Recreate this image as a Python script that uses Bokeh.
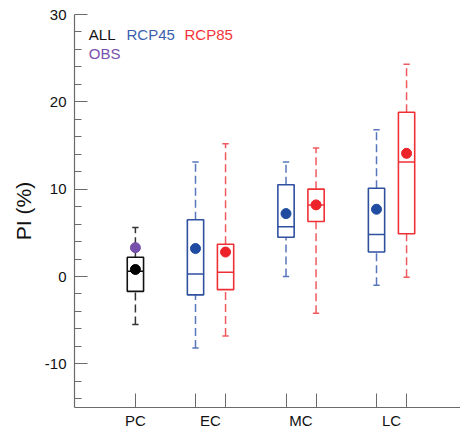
from bokeh.plotting import figure
from bokeh.models import Range1d, FixedTicker, Label, ColumnDataSource
from bokeh.embed import file_html
from bokeh.resources import INLINE

# ---- data ----
groups = ["PC", "EC", "MC", "LC"]
group_pos = [0.17, 1.0, 2.0, 3.0]
offset = 0.166

box_group = ["PC", "EC", "EC", "MC", "MC", "LC", "LC"]
box_series = ["ALL", "RCP45", "RCP85", "RCP45", "RCP85", "RCP45", "RCP85"]
box_side = [0, -1, 1, -1, 1, -1, 1]
whisker_low = [-5.5, -8.2, -6.8, 0.0, -4.2, -1.0, -0.1]
q1 = [-1.7, -2.1, -1.5, 4.5, 6.3, 2.8, 4.9]
median = [0.6, 0.3, 0.5, 5.7, 8.2, 4.8, 13.1]
q3 = [2.2, 6.5, 3.7, 10.5, 10.0, 10.1, 18.8]
whisker_high = [5.6, 13.1, 15.2, 13.1, 14.7, 16.8, 24.3]
mean = [0.8, 3.2, 2.8, 7.2, 8.2, 7.7, 14.1]
obs_group = ["PC"]
obs_value = [3.3]

y_ticks = [-10, 0, 10, 20, 30]
y_tick_labels = ["-10", "0", "10", "20", "30"]

colors = {"ALL": "#111111", "RCP45": "#2f4f9f", "RCP85": "#ee3035"}
whisker_colors = {"ALL": "#333333", "RCP45": "#5876bb", "RCP85": "#ef5a5e"}
dot_colors = {"ALL": "#000000", "RCP45": "#1f4ca0", "RCP85": "#ec2328"}
obs_color = "#7650ab"

gp = dict(zip(groups, group_pos))
xs = [gp[g] + s * offset for g, s in zip(box_group, box_side)]
col = [colors[s] for s in box_series]
wcol = [whisker_colors[s] for s in box_series]
dcol = [dot_colors[s] for s in box_series]

src = ColumnDataSource(dict(x=xs, lo=whisker_low, q1=q1, med=median, q3=q3,
                            hi=whisker_high, mean=mean, col=col, wcol=wcol, dcol=dcol))

p = figure(width=460, height=431, output_backend="svg", toolbar_location=None,
           x_range=Range1d(-0.503, 3.762), y_range=Range1d(-15, 30),
           min_border_left=74, min_border_top=14, min_border_right=0, min_border_bottom=24)
p.outline_line_color = None
p.grid.visible = False
p.background_fill_color = "white"

bw = 0.18
cw = 0.07
# whiskers
p.segment(x0="x", y0="q3", x1="x", y1="hi", source=src, line_color="wcol", line_width=1.5, line_dash="8 4")
p.segment(x0="x", y0="lo", x1="x", y1="q1", source=src, line_color="wcol", line_width=1.5, line_dash="8 4")
# caps
src2 = ColumnDataSource(dict(x0=[x - cw / 2 for x in xs], x1=[x + cw / 2 for x in xs],
                             lo=whisker_low, hi=whisker_high, wcol=wcol))
p.segment(x0="x0", y0="hi", x1="x1", y1="hi", source=src2, line_color="wcol", line_width=1.5)
p.segment(x0="x0", y0="lo", x1="x1", y1="lo", source=src2, line_color="wcol", line_width=1.5)
# boxes
p.vbar(x="x", width=bw, top="q3", bottom="q1", source=src, fill_color="white",
       line_color="col", line_width=1.6)
# medians
src3 = ColumnDataSource(dict(x0=[x - bw / 2 for x in xs], x1=[x + bw / 2 for x in xs],
                             med=median, col=col))
p.segment(x0="x0", y0="med", x1="x1", y1="med", source=src3, line_color="col", line_width=1.5)
# means
p.scatter(x="x", y="mean", source=src, size=10, fill_color="dcol", line_color="dcol")
# obs
p.scatter(x=[gp[g] for g in obs_group], y=obs_value, size=10, fill_color=obs_color, line_color=obs_color)

axis_col = "#6a6a6a"
# y axis
p.yaxis.ticker = FixedTicker(ticks=y_ticks, minor_ticks=list(range(-14, 30, 2)))
p.yaxis.major_label_overrides = dict(zip(y_ticks, y_tick_labels))
p.yaxis.major_tick_in = 13
p.yaxis.major_tick_out = 0
p.yaxis.minor_tick_in = 7
p.yaxis.minor_tick_out = 0
p.yaxis.axis_line_color = axis_col
p.yaxis.major_tick_line_color = axis_col
p.yaxis.minor_tick_line_color = axis_col
p.yaxis.axis_line_width = 1.2
p.yaxis.major_label_text_font = "Liberation Sans"
p.yaxis.major_label_text_font_size = "15px"
p.yaxis.major_label_text_color = "#111111"
p.yaxis.major_label_standoff = 8
p.yaxis.axis_label = "PI (%)"
p.yaxis.axis_label_text_font = "Liberation Sans"
p.yaxis.axis_label_text_font_size = "21px"
p.yaxis.axis_label_text_font_style = "normal"
p.yaxis.axis_label_text_color = "#111111"
p.yaxis.axis_label_standoff = 7

# x axis
p.xaxis.ticker = FixedTicker(ticks=group_pos, minor_ticks=[gp["PC"]] + xs[1:])
p.xaxis.major_label_overrides = {gp[g]: g for g in groups}
p.xaxis.major_tick_in = 0
p.xaxis.major_tick_out = 0
p.xaxis.minor_tick_in = 14
p.xaxis.minor_tick_out = 0
p.xaxis.axis_line_color = axis_col
p.xaxis.minor_tick_line_color = axis_col
p.xaxis.axis_line_width = 1.2
p.xaxis.major_label_text_font = "Liberation Sans"
p.xaxis.major_label_text_font_size = "15px"
p.xaxis.major_label_text_color = "#111111"
p.xaxis.major_label_standoff = 4

# legend texts
leg_text = ["ALL", "RCP45", "RCP85", "OBS"]
leg_color = ["#111111", "#3b5fae", "#f2343a", "#7a4fb0"]
leg_x = [-0.345, 0.072, 0.712, -0.345]
leg_y = [27.7, 27.7, 27.7, 25.5]
for t, c, x, y in zip(leg_text, leg_color, leg_x, leg_y):
    p.add_layout(Label(x=x, y=y, text=t, text_color=c, text_font="Liberation Sans",
                       text_font_size="15px", text_baseline="middle", text_align="left"))

open("out.html", "w").write(file_html(p, INLINE))
